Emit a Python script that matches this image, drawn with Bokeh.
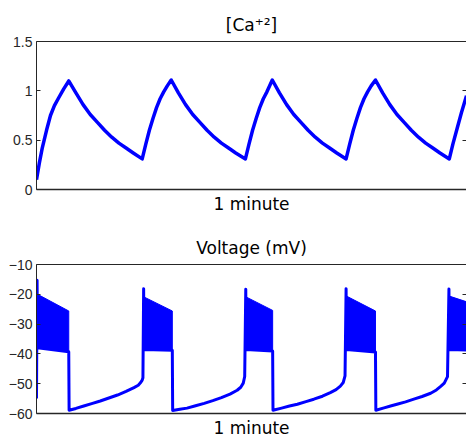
from bokeh.plotting import figure
from bokeh.layouts import column
from bokeh.models import FixedTicker, LinearAxis, Range1d, CustomJSTickFormatter
from bokeh.embed import file_html
from bokeh.resources import INLINE

# ---- intracellular calcium (time in s) ----
ca_t = [0.0, 0.4, 0.8, 1.4, 1.95, 2.5, 3.1, 3.8, 4.5,
        5.5, 6.5, 7.5, 8.5, 9.5, 10.5, 11.5, 12.5, 13.5, 14.75,
        15.25, 15.75, 16.25, 16.75, 17.25, 17.75, 18.25, 18.8,
        19.8, 20.8, 21.8, 22.8, 23.8, 24.8, 25.8, 26.8, 27.8, 29.15,
        29.65, 30.15, 30.65, 31.15, 31.65, 32.15, 32.9,
        33.9, 34.9, 35.9, 36.9, 37.9, 38.9, 39.9, 40.9, 41.9, 43.2,
        43.7, 44.2, 44.7, 45.2, 45.7, 46.2, 46.7, 47.3,
        48.3, 49.3, 50.3, 51.3, 52.3, 53.3, 54.3, 55.3, 56.3, 57.6,
        58.1, 58.7, 59.3, 60.0]
ca_val = [0.10, 0.27, 0.42, 0.60, 0.75, 0.85, 0.93, 1.02, 1.10,
          0.98, 0.86, 0.76, 0.68, 0.60, 0.53, 0.47, 0.42, 0.37, 0.31,
          0.46, 0.60, 0.72, 0.83, 0.92, 0.99, 1.05, 1.11,
          0.98, 0.86, 0.76, 0.68, 0.60, 0.53, 0.47, 0.42, 0.37, 0.31,
          0.46, 0.60, 0.72, 0.83, 0.92, 0.99, 1.11,
          0.98, 0.86, 0.76, 0.68, 0.60, 0.53, 0.47, 0.42, 0.37, 0.31,
          0.46, 0.60, 0.72, 0.83, 0.92, 0.99, 1.05, 1.11,
          0.98, 0.86, 0.76, 0.68, 0.60, 0.53, 0.47, 0.42, 0.37, 0.31,
          0.46, 0.62, 0.78, 0.95]
ca_ticks = [0, 0.5, 1, 1.5]
ca_tick_labels = ["0", "0.5", "1", "1.5"]

# ---- membrane potential: silent phases and burst on/off transitions ----
v_t = [0.0, 0.08, 0.15,
       4.5, 4.55,
       5.5, 6.6, 7.7, 8.9, 10.1, 11.3, 12.5, 13.6, 14.2, 14.5, 14.75, 14.85,
       14.95, 15.0,
       18.95, 19.0,
       20.0, 21.0, 22.2, 23.4, 24.6, 25.8, 27.0, 28.0, 28.5, 28.85, 29.05,
       29.2, 29.25,
       32.95, 33.0,
       34.2, 35.3, 36.4, 37.6, 38.7, 39.9, 41.0, 41.8, 42.4, 42.8, 43.05,
       43.2, 43.25,
       47.3, 47.35,
       48.5, 49.4, 50.3, 51.5, 52.65, 53.8, 55.0, 55.8, 56.4, 56.9, 57.35,
       57.55, 57.6,
       60.0]
v_val = [-55.0, -15.3, -37.9,
         -39.3, -58.9,
         -58.3, -57.5, -56.7, -55.8, -54.8, -53.8, -52.6, -51.3, -50.5, -49.7, -48.8, -48.0,
         -18.1, -38.5,
         -38.8, -59.0,
         -58.6, -58.2, -57.4, -56.6, -55.7, -54.7, -53.5, -52.2, -51.2, -49.8, -47.6,
         -18.3, -38.5,
         -39.0, -58.9,
         -58.2, -57.5, -56.9, -56.0, -55.2, -54.2, -53.0, -52.0, -50.8, -49.6, -47.4,
         -18.1, -38.5,
         -39.4, -58.9,
         -58.1, -57.5, -56.9, -56.1, -55.2, -54.3, -53.2, -52.1, -50.9, -49.8, -47.6,
         -18.2, -38.5,
         -38.7]

# spike-burst envelopes (fast spiking drawn as a filled band)
burst_start = [0.15, 15.0, 29.25, 43.25, 57.6]
burst_end = [4.5, 18.95, 32.95, 47.3, 60.0]
burst_hi_start = [-20.0, -20.9, -20.9, -20.6, -20.6]
burst_hi_end = [-25.6, -25.6, -25.4, -25.6, -22.5]
burst_lo_start = [-37.9, -38.5, -38.5, -38.5, -38.5]
burst_lo_end = [-39.3, -38.8, -39.0, -39.4, -38.7]

v_ticks = [-60, -50, -40, -30, -20, -10]
v_tick_labels = ["\u221260", "\u221250", "\u221240", "\u221230", "\u221220", "\u221210"]

BLUE = "#0000ff"
AXIS = "#262626"
TICK_FONT = "Liberation Sans"
TEXT_FONT = "DejaVu Sans"


def make_panel(height, top, bottom, y_lo, y_hi, ticks, labels, title):
    p = figure(width=466, height=height, x_range=Range1d(0, 60),
               y_range=Range1d(y_lo, y_hi), output_backend="svg",
               toolbar_location=None, min_border_left=36, min_border_right=0,
               min_border_top=top, min_border_bottom=bottom)
    p.outline_line_color = None
    p.xgrid.visible = False
    p.ygrid.visible = False
    p.background_fill_color = "white"
    p.border_fill_color = "white"

    p.title.text = title
    p.title.text_font = TEXT_FONT
    p.title.text_font_size = "17px"
    p.title.text_font_style = "normal"
    p.title.text_color = "black"
    p.title.align = "center"
    p.title.standoff = 13

    xa = p.xaxis[0]
    xa.ticker = FixedTicker(ticks=[])
    xa.axis_label = "1 minute"
    xa.axis_label_text_font = TEXT_FONT
    xa.axis_label_text_font_size = "17px"
    xa.axis_label_text_font_style = "normal"
    xa.axis_label_text_color = "black"
    xa.axis_label_standoff = 4
    xa.axis_line_color = AXIS
    xa.axis_line_width = 1.5
    xa.major_tick_line_color = None
    xa.minor_tick_line_color = None

    ya = p.yaxis[0]
    ya.ticker = FixedTicker(ticks=ticks)
    ya.major_label_overrides = dict(zip(ticks, labels))
    ya.major_label_text_font = TICK_FONT
    ya.major_label_text_font_size = "14px"
    ya.major_label_text_color = AXIS
    ya.major_label_standoff = 4
    ya.major_tick_in = 4
    ya.major_tick_out = 0
    ya.major_tick_line_color = AXIS
    ya.minor_tick_line_color = None
    ya.axis_line_color = AXIS

    right = LinearAxis(ticker=FixedTicker(ticks=ticks),
                       formatter=CustomJSTickFormatter(code="return ''"),
                       major_tick_in=4, major_tick_out=0,
                       major_tick_line_color=AXIS, minor_tick_line_color=None,
                       major_label_standoff=0, axis_line_color=None)
    p.add_layout(right, "right")

    above = LinearAxis(ticker=FixedTicker(ticks=[]), axis_line_color=AXIS,
                       major_tick_line_color=None, minor_tick_line_color=None,
                       major_label_standoff=0)
    p.add_layout(above, "above")
    return p


# calcium panel
p1 = make_panel(220, 41, 31, 0, 1.5, ca_ticks, ca_tick_labels, "[Ca\u207a\u00b2]")
p1.line(ca_t, ca_val, line_color=BLUE, line_width=3.5, line_join="round")

# voltage panel
p2 = make_panel(223, 44, 30, -60, -10, v_ticks, v_tick_labels, "Voltage (mV)")

band_xs = [[s, e, e, s] for s, e in zip(burst_start, burst_end)]
band_ys = [[hs, he, le, ls] for hs, he, le, ls in
           zip(burst_hi_start, burst_hi_end, burst_lo_end, burst_lo_start)]
p2.patches(band_xs, band_ys, fill_color=BLUE, line_color=BLUE, line_width=1)
p2.line(v_t, v_val, line_color=BLUE, line_width=3, line_join="round")

layout = column(p1, p2, spacing=0)
open("out.html", "w").write(file_html(layout, INLINE))
